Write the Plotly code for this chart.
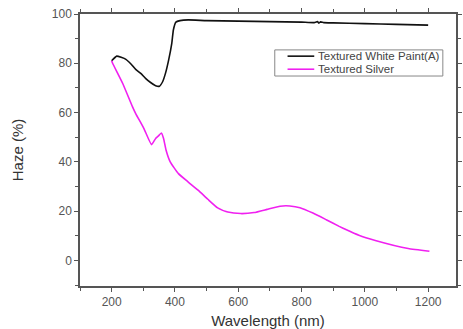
import plotly.graph_objects as go

# Textured White Paint(A)
white_x = [200, 216, 230, 245, 261, 276, 292, 307, 323, 339, 351, 361, 370, 380, 390, 395, 403, 416, 442,
           500, 600, 700, 800, 840, 850, 855, 860, 870, 900, 1000, 1100, 1200]
white_y = [81.0, 82.9, 82.4, 81.6, 79.7, 77.5, 75.9, 73.9, 72.2, 70.9, 70.7, 72.5, 75.9, 81.3, 88.1, 93.5, 96.7, 97.3, 97.6,
           97.3, 97.1, 96.9, 96.7, 96.5, 96.9, 96.3, 96.8, 96.5, 96.4, 96.1, 95.8, 95.5]

# Textured Silver
silver_x = [200, 203, 235, 266, 276, 302, 326, 339, 347, 357, 364, 372, 385, 411, 442, 473, 504, 535, 567,
            608, 650, 691, 732, 763, 795, 836, 878, 919, 940, 981, 1033, 1137, 1204]
silver_y = [81.0, 80.0, 71.8, 62.3, 59.6, 53.5, 47.0, 49.5, 50.4, 51.7, 49.5, 44.7, 40.0, 35.2, 31.8, 28.5, 24.8, 21.3, 19.6,
            19.0, 19.4, 20.7, 22.0, 22.1, 21.4, 19.2, 16.5, 13.8, 12.5, 10.2, 8.1, 4.8, 3.7]

series_names = ["Textured White Paint(A)", "Textured Silver"]
series_colors = ["#111111", "#f020f0"]

fig = go.Figure()
fig.add_trace(go.Scatter(x=white_x, y=white_y, mode="lines", name=series_names[0], showlegend=False,
                         line=dict(color=series_colors[0], width=1.6, shape="spline", smoothing=0.4)))
fig.add_trace(go.Scatter(x=silver_x, y=silver_y, mode="lines", name=series_names[1], showlegend=False,
                         line=dict(color=series_colors[1], width=1.6, shape="spline", smoothing=0.4)))

axis_common = dict(
    showgrid=False, zeroline=False, showline=True, linecolor="#555555", linewidth=1.5,
    mirror="ticks", ticks="outside", ticklen=4, tickwidth=1.2, tickcolor="#555555",
    tickfont=dict(family="Liberation Sans, Arial", size=12, color="#555555"),
)

fig.update_xaxes(range=[100, 1288], tick0=200, dtick=200,
                 minor=dict(dtick=100, ticks="outside", ticklen=3, tickcolor="#555555"),
                 title=dict(text="Wavelength (nm)", standoff=8,
                            font=dict(family="Liberation Sans, Arial", size=15, color="#333333")),
                 **axis_common)
fig.update_yaxes(range=[-10.4, 100], tick0=0, dtick=20,
                 minor=dict(dtick=10, ticks="outside", ticklen=3, tickcolor="#555555"),
                 title=dict(text="Haze (%)", standoff=25,
                            font=dict(family="Liberation Sans, Arial", size=15, color="#333333")),
                 **axis_common)

# compact legend drawn with shapes and annotations
shapes = [dict(type="rect", xref="paper", yref="paper", x0=0.518, x1=0.965, y0=0.772, y1=0.868,
               line=dict(color="#888888", width=1), fillcolor="white", layer="above")]
annotations = []
for i, (name, col) in enumerate(zip(series_names, series_colors)):
    yy = 0.845 - i * 0.048
    shapes.append(dict(type="line", xref="paper", yref="paper", x0=0.552, x1=0.623, y0=yy, y1=yy,
                       line=dict(color=col, width=1.6), layer="above"))
    annotations.append(dict(xref="paper", yref="paper", x=0.628, y=yy, xanchor="left", yanchor="middle",
                            text=name, showarrow=False,
                            font=dict(family="Liberation Sans, Arial", size=11.5, color="#444444")))

fig.update_layout(
    width=463, height=329,
    margin=dict(l=80, r=1, t=14, b=43),
    plot_bgcolor="white", paper_bgcolor="white",
    showlegend=False,
    shapes=shapes, annotations=annotations,
)

fig.write_html("out.html")
